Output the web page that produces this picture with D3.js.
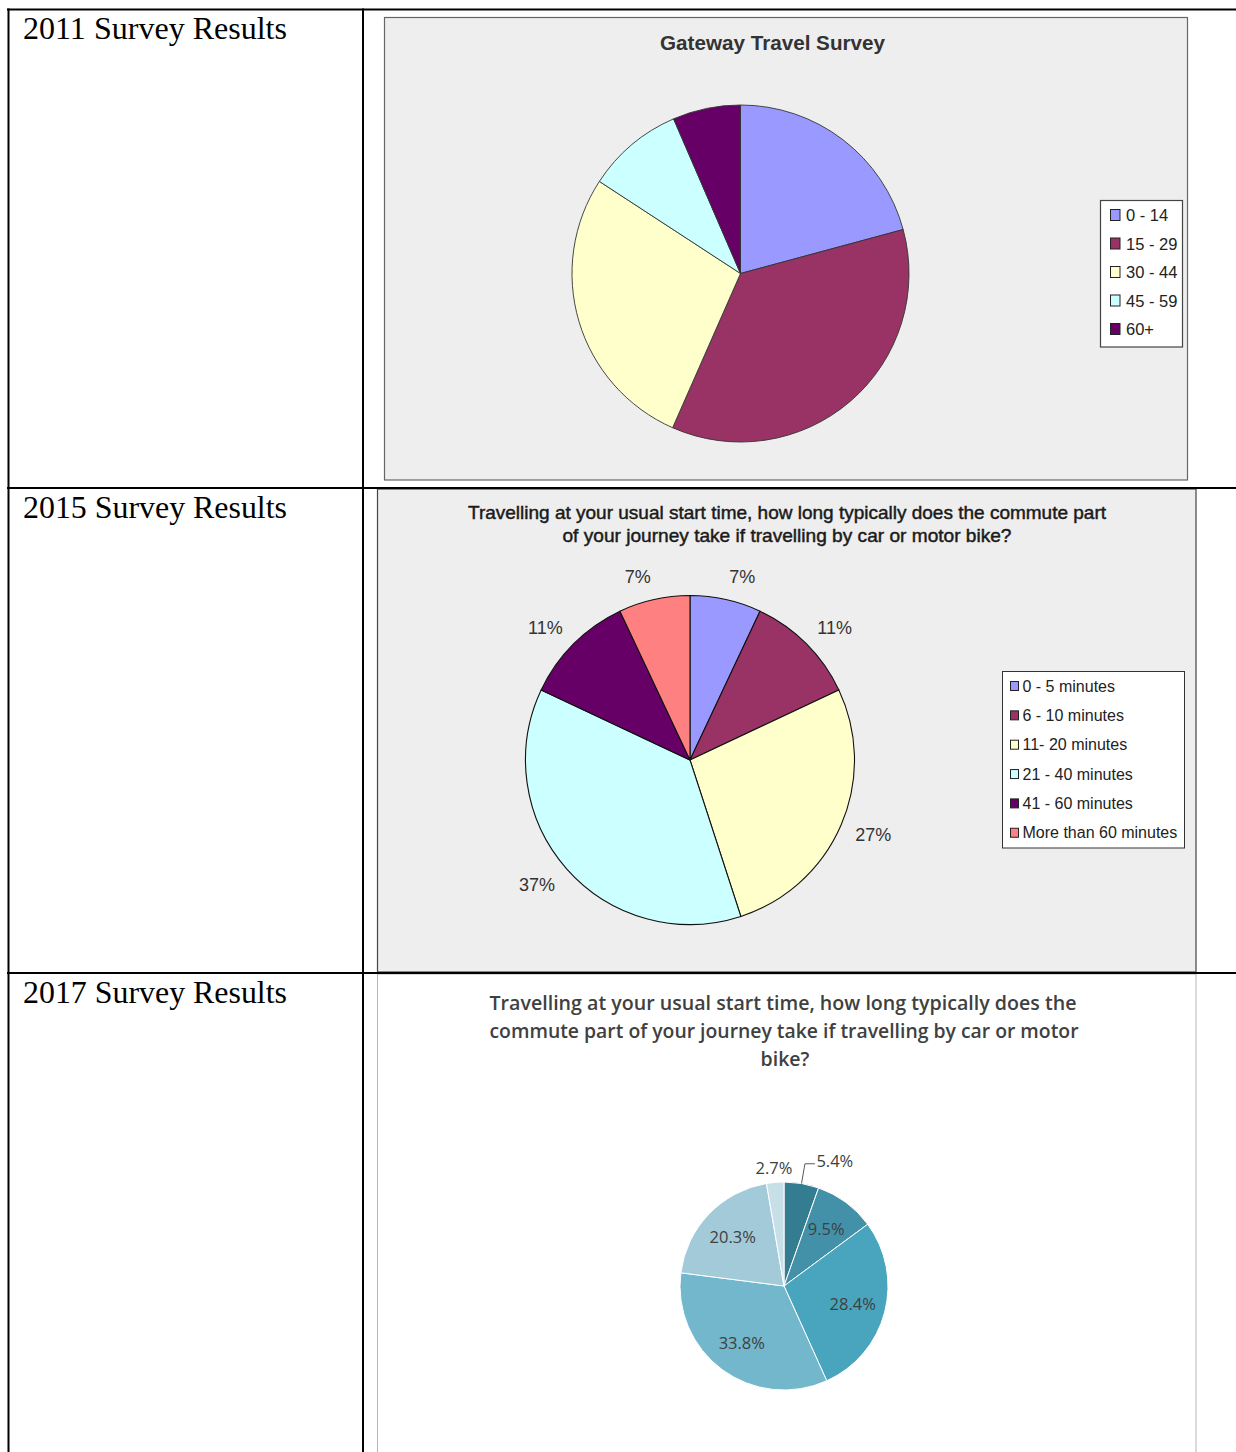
<!DOCTYPE html>
<html><head><meta charset="utf-8">
<script src="https://cdn.jsdelivr.net/npm/d3@7"></script>
<style>
html,body{margin:0;padding:0;background:#fff;}
svg{display:block;}
</style></head><body>
<svg id="c" width="1236" height="1452"></svg>
<script>
// ---------- data ----------
const rowLabels = ["2011 Survey Results", "2015 Survey Results", "2017 Survey Results"];

const title2011 = "Gateway Travel Survey";
const cats2011 = ["0 - 14", "15 - 29", "30 - 44", "45 - 59", "60+"];
const vals2011 = [20.8, 35.8, 27.6, 9.3, 6.5];
const colors2011 = ["#9999ff", "#993366", "#ffffcc", "#ccffff", "#660066"];

const title2015 = ["Travelling at your usual start time, how long typically does the commute part",
                   "of your journey take if travelling by car or motor bike?"];
const cats2015 = ["0 - 5 minutes", "6 - 10 minutes", "11- 20 minutes", "21 - 40 minutes", "41 - 60 minutes", "More than 60 minutes"];
const vals2015 = [7, 11, 27, 37, 11, 7];
const labels2015 = ["7%", "11%", "27%", "37%", "11%", "7%"];
const colors2015 = ["#9999ff", "#993366", "#ffffcc", "#ccffff", "#660066", "#ff8080"];

const title2017 = ["Travelling at your usual start time, how long typically does the",
                   "commute part of your journey take if travelling by car or motor",
                   "bike?"];
const vals2017 = [5.4, 9.5, 28.4, 33.8, 20.3, 2.7];
const labels2017 = ["5.4%", "9.5%", "28.4%", "33.8%", "20.3%", "2.7%"];
const colors2017 = ["#347d91", "#4291a9", "#48a5bd", "#72b7cc", "#a2cad9", "#c7e0e8"];

// ---------- helpers ----------
const svg = d3.select("#c");
const pie = d3.pie().sort(null).value(d => d);
function fit(sel, w) {
  if (w) sel.attr("textLength", w).attr("lengthAdjust", "spacingAndGlyphs");
  return sel;
}

// ---------- chart frames ----------
svg.append("rect").attr("x", 384.5).attr("y", 17.5).attr("width", 803).attr("height", 462.5)
  .attr("fill", "#eeeeee").attr("stroke", "#666").attr("stroke-width", 1.2);
svg.append("rect").attr("x", 377.5).attr("y", 489).attr("width", 818.5).attr("height", 483)
  .attr("fill", "#eeeeee").attr("stroke", "#444").attr("stroke-width", 1.2);
svg.append("rect").attr("x", 377.5).attr("y", 974).attr("width", 818.5).attr("height", 490)
  .attr("fill", "#ffffff").attr("stroke", "#b5b5b5").attr("stroke-width", 1);

// ---------- table grid ----------
const grid = svg.append("g").attr("stroke", "#000").attr("stroke-width", 2);
grid.append("line").attr("x1", 7).attr("x2", 1236).attr("y1", 9.5).attr("y2", 9.5);
grid.append("line").attr("x1", 7).attr("x2", 1236).attr("y1", 488).attr("y2", 488);
grid.append("line").attr("x1", 7).attr("x2", 1236).attr("y1", 973).attr("y2", 973);
grid.append("line").attr("x1", 8.5).attr("x2", 8.5).attr("y1", 8.5).attr("y2", 1452);
grid.append("line").attr("x1", 363).attr("x2", 363).attr("y1", 8.5).attr("y2", 1452);

// row labels
const rowBase = [39, 518, 1003];
rowLabels.forEach((t, i) => {
  svg.append("text").attr("x", 23).attr("y", rowBase[i])
    .attr("font-family", "'Liberation Serif','Times New Roman',serif")
    .attr("font-size", 31.5).attr("fill", "#000").call(fit, 264).text(t);
});

// ---------- 2011 ----------
{
  const cx = 740.5, cy = 273.5, r = 168.5;
  svg.append("text").attr("x", 772.5).attr("y", 50).attr("text-anchor", "middle")
    .attr("font-family", "'Liberation Sans',Arial,sans-serif").attr("font-weight", "bold")
    .attr("font-size", 20).attr("fill", "#333").call(fit, 225).text(title2011);
  const arc = d3.arc().innerRadius(0).outerRadius(r);
  svg.append("g").attr("transform", `translate(${cx},${cy})`)
    .selectAll("path").data(pie(vals2011)).join("path")
    .attr("d", arc).attr("fill", (d, i) => colors2011[i])
    .attr("stroke", "#333").attr("stroke-width", 0.9);
  // legend
  svg.append("rect").attr("x", 1100.5).attr("y", 200.5).attr("width", 82).attr("height", 146.5)
    .attr("fill", "#fff").attr("stroke", "#444").attr("stroke-width", 1.2);
  const lg = svg.append("g");
  cats2011.forEach((c, i) => {
    const y = 215 + i * 28.5;
    lg.append("rect").attr("x", 1110.5).attr("y", y - 5.5).attr("width", 9.5).attr("height", 11)
      .attr("fill", colors2011[i]).attr("stroke", "#222").attr("stroke-width", 1);
    lg.append("text").attr("x", 1126).attr("y", y + 6)
      .attr("font-family", "'Liberation Sans',Arial,sans-serif").attr("font-size", 16.5)
      .attr("fill", "#222").text(c);
  });
}

// ---------- 2015 ----------
{
  const cx = 690, cy = 760, r = 164.5;
  const tw = [638, 449];
  title2015.forEach((t, i) => {
    svg.append("text").attr("x", 787).attr("y", 519 + i * 22.5).attr("text-anchor", "middle")
      .attr("font-family", "'Liberation Sans',Arial,sans-serif").attr("font-size", 18.5)
      .attr("fill", "#1a1a1a").attr("stroke", "#1a1a1a").attr("stroke-width", 0.45)
      .call(fit, tw[i]).text(t);
  });
  const arc = d3.arc().innerRadius(0).outerRadius(r);
  const arcs = pie(vals2015);
  const g = svg.append("g").attr("transform", `translate(${cx},${cy})`);
  g.selectAll("path").data(arcs).join("path")
    .attr("d", arc).attr("fill", (d, i) => colors2015[i])
    .attr("stroke", "#111").attr("stroke-width", 1.1);
  // outside labels
  const R = 180, hh = 8;
  arcs.forEach((d, i) => {
    const a = (d.startAngle + d.endAngle) / 2;
    const s = Math.sin(a), c = Math.cos(a);
    const t = g.append("text").attr("text-anchor", "middle")
      .attr("font-family", "'Liberation Sans',Arial,sans-serif").attr("font-size", 18)
      .attr("fill", "#333").text(labels2015[i]);
    const hw = t.node().getComputedTextLength() / 2;
    const x = R * s + hw * Math.sign(s);
    const y = -R * c - hh * c;
    t.attr("x", x).attr("y", y + 6.5);
  });
  // legend
  svg.append("rect").attr("x", 1002.5).attr("y", 671.5).attr("width", 182).attr("height", 176.5)
    .attr("fill", "#fff").attr("stroke", "#333").attr("stroke-width", 1);
  cats2015.forEach((c, i) => {
    const y = 686 + i * 29.35;
    svg.append("rect").attr("x", 1010.5).attr("y", y - 4.5).attr("width", 8).attr("height", 9)
      .attr("fill", colors2015[i]).attr("stroke", "#222").attr("stroke-width", 1);
    svg.append("text").attr("x", 1022.5).attr("y", y + 5.5)
      .attr("font-family", "'Liberation Sans',Arial,sans-serif").attr("font-size", 16)
      .attr("fill", "#222").text(c);
  });
}

// ---------- 2017 ----------
{
  const cx = 784, cy = 1286, r = 104;
  const tw = [587, 589, null];
  const tx = [783, 784, 785];
  title2017.forEach((t, i) => {
    svg.append("text").attr("x", tx[i]).attr("y", 1010 + i * 28).attr("text-anchor", "middle")
      .attr("font-family", "'Open Sans','Noto Sans',sans-serif").attr("font-weight", 600)
      .attr("font-size", 19.5).attr("fill", "#404040").call(fit, tw[i]).text(t);
  });
  const arc = d3.arc().innerRadius(0).outerRadius(r);
  const arcs = pie(vals2017);
  const g = svg.append("g").attr("transform", `translate(${cx},${cy})`);
  g.selectAll("path").data(arcs).join("path")
    .attr("d", arc).attr("fill", (d, i) => colors2017[i])
    .attr("stroke", "#fff").attr("stroke-width", 1);
  const font = "'Open Sans','Noto Sans',sans-serif";
  arcs.forEach((d, i) => {
    const a = (d.startAngle + d.endAngle) / 2;
    const s = Math.sin(a), c = Math.cos(a);
    if (i === 0) {
      // leader line label
      const p0 = [r * s, -r * c], p1 = [(r + 20) * s, -(r + 20) * c], p2 = [p1[0] + 10, p1[1]];
      g.append("path").attr("d", d3.line()([p0, p1, p2]))
        .attr("fill", "none").attr("stroke", "#595959").attr("stroke-width", 1);
      g.append("text").attr("x", p2[0] + 1.5).attr("y", p2[1] - 3).attr("dy", "0.35em")
        .attr("font-family", font).attr("font-size", 16.5).attr("fill", "#404040").text(labels2017[i]);
    } else if (i === arcs.length - 1) {
      g.append("text").attr("x", (r + 14) * s).attr("y", -(r + 14) * c).attr("dy", "0.35em")
        .attr("text-anchor", "middle")
        .attr("font-family", font).attr("font-size", 16.5).attr("fill", "#404040").text(labels2017[i]);
    } else {
      const ci = d3.arc().innerRadius(71 * 2).outerRadius(0).centroid(d);
      g.append("text").attr("x", ci[0]).attr("y", ci[1]).attr("dy", "0.35em")
        .attr("text-anchor", "middle")
        .attr("font-family", font).attr("font-size", 16.5).attr("fill", "#404040").text(labels2017[i]);
    }
  });
}
</script>
</body></html>
